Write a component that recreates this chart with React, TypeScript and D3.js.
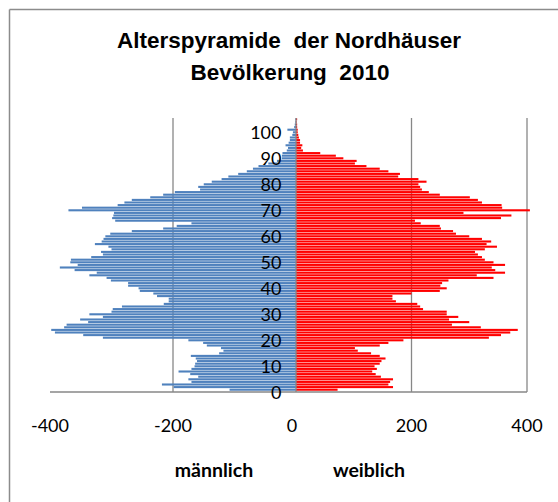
import React from 'react';
import * as d3 from 'd3';

// age groups 0..104 (one bar per year of age)
const AGES = d3.range(0, 105);

// männlich, count per year of age (drawn to the left)
const MALE = [
  108, 199, 218, 170, 175, 159, 172, 191, 170, 165,
  164, 161, 163, 171, 125, 118, 122, 145, 151, 175,
  314, 346, 392, 398, 377, 373, 338, 351, 314, 336,
  300, 298, 283, 215, 207, 207, 226, 232, 254, 256,
  273, 273, 301, 308, 336, 324, 360, 384, 355, 367,
  366, 333, 314, 317, 300, 305, 327, 316, 313, 310,
  302, 267, 216, 194, 170, 294, 299, 297, 296, 370,
  348, 290, 279, 267, 237, 216, 197, 156, 159, 150,
  137, 121, 110, 94, 80, 70, 61, 45, 31, 23,
  23, 22, 15, 13, 17, 12, 10, 10, 6, 5,
  14, 3, 2, 1, 1,
];

// weiblich, count per year of age (drawn to the right)
const FEMALE = [
  72, 168, 160, 163, 168, 147, 138, 132, 140, 136,
  145, 148, 155, 145, 130, 107, 102, 145, 160, 186,
  334, 355, 371, 384, 320, 270, 300, 265, 281, 261,
  261, 220, 215, 210, 173, 167, 167, 200, 249, 261,
  250, 253, 264, 342, 313, 362, 345, 339, 362, 342,
  327, 322, 315, 310, 327, 348, 330, 338, 322, 300,
  277, 272, 251, 249, 216, 206, 355, 373, 290, 405,
  357, 356, 322, 315, 301, 249, 230, 218, 215, 212,
  226, 212, 177, 180, 160, 145, 122, 102, 105, 82,
  69, 42, 12, 9, 11, 7, 7, 5, 4, 3,
  3, 2, 2, 1, 2,
];

const X_TICKS = [-400, -200, 0, 200, 400];
const GRID_TICKS = [-200, 200, 400];
const Y_TICKS = [0, 10, 20, 30, 40, 50, 60, 70, 80, 90, 100];

const WIDTH = 558;
const HEIGHT = 502;
const PLOT_TOP = 118;
const PLOT_BOTTOM = 392;

const AXIS_COLOR = '#878787';
const MALE_COLOR = '#4F81BD';
const FEMALE_COLOR = '#FF0000';
const LABEL_FONT = 'Lato, "Open Sans", sans-serif';

const App: React.FC = () => {
  const x = d3.scaleLinear()
    .domain([-400, 0, 400])
    .range([50, 296, 527]);

  const y = d3.scaleBand<number>()
    .domain(AGES)
    .range([PLOT_BOTTOM - 1, PLOT_TOP])
    .paddingInner(0.2)
    .paddingOuter(0.1);

  const bw = y.bandwidth();

  return (
    <div style={{ position: 'fixed', left: 0, top: 0, width: WIDTH, height: HEIGHT, background: '#fff' }}>
      <svg width={WIDTH} height={HEIGHT} style={{ display: 'block' }}>
        <rect x={0} y={0} width={WIDTH} height={HEIGHT} fill="#fff" />

        {/* chart frame (only top and left edges fall inside the picture) */}
        <line x1={9.5} x2={WIDTH} y1={9.5} y2={9.5} stroke="#8c8c8c" strokeWidth={1.5} />
        <line x1={9.5} x2={9.5} y1={9.5} y2={HEIGHT} stroke="#8c8c8c" strokeWidth={1.5} />

        {/* title */}
        <g fontFamily='"Liberation Sans", Arial, sans-serif' fontWeight="bold" fontSize={22.5} textAnchor="middle" fill="#000">
          <text x={289} y={48} xmlSpace="preserve" style={{ whiteSpace: 'pre' }}>Alterspyramide  der Nordhäuser</text>
          <text x={290} y={80} xmlSpace="preserve" style={{ whiteSpace: 'pre' }}>Bevölkerung  2010</text>
        </g>

        {/* vertical gridlines */}
        {GRID_TICKS.map(t => (
          <line key={t} x1={x(t)} x2={x(t)} y1={PLOT_TOP} y2={PLOT_BOTTOM} stroke={AXIS_COLOR} strokeWidth={1.3} />
        ))}

        {/* bars */}
        <g fill={MALE_COLOR}>
          {AGES.map((a, i) => (
            <rect key={a} x={x(-MALE[i])} y={y(a)!} width={x(0) - x(-MALE[i])} height={bw} />
          ))}
        </g>
        <g fill={FEMALE_COLOR}>
          {AGES.map((a, i) => (
            <rect key={a} x={x(0)} y={y(a)!} width={x(FEMALE[i]) - x(0)} height={bw} />
          ))}
        </g>

        {/* axes */}
        <line x1={x(0)} x2={x(0)} y1={PLOT_TOP} y2={PLOT_BOTTOM} stroke={AXIS_COLOR} strokeWidth={1.3} />
        <line x1={x(-400)} x2={x(400)} y1={PLOT_BOTTOM} y2={PLOT_BOTTOM} stroke={AXIS_COLOR} strokeWidth={1.5} />

        {/* age labels */}
        <g fontFamily={LABEL_FONT} fontSize={18} textAnchor="end" fill="#000">
          {Y_TICKS.map(t => (
            <text key={t} x={281.5} y={y(t)! + bw / 2 + 2.5} dominantBaseline="central">{t}</text>
          ))}
        </g>

        {/* value labels */}
        <g fontFamily={LABEL_FONT} fontSize={18} textAnchor="middle" fill="#000">
          {X_TICKS.map(t => (
            <text key={t} x={x(t) - (t === 0 ? 4 : 0)} y={432}>{t}</text>
          ))}
        </g>

        {/* axis titles */}
        <g fontFamily={LABEL_FONT} fontWeight="bold" fontSize={19.5} textAnchor="middle" fill="#000">
          <text x={214} y={477}>männlich</text>
          <text x={369} y={477}>weiblich</text>
        </g>
      </svg>
    </div>
  );
};

export default App;
